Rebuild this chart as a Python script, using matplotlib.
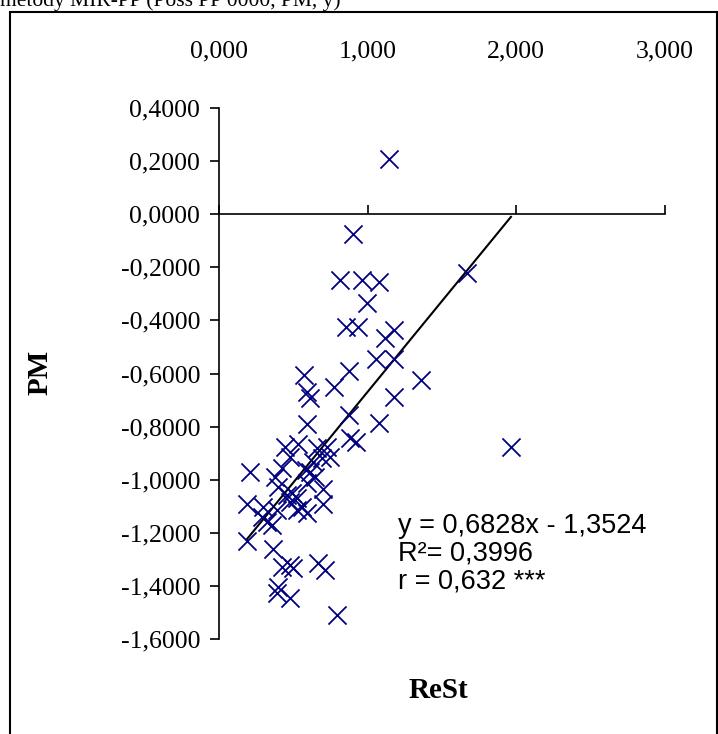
import matplotlib
matplotlib.use("Agg")
import matplotlib.pyplot as plt
from matplotlib.patches import Rectangle
from matplotlib.ticker import FuncFormatter
import numpy as np

# ReSt (x) vs PM (y)
rest = [1.145, 0.902, 0.815, 0.963, 1.077, 0.997, 0.855, 0.936, 1.118, 1.178,
        1.057, 1.178, 0.572, 0.875, 1.360, 0.774, 0.593, 0.613, 1.178, 0.875,
        0.593, 1.077, 1.670, 1.966, 0.209, 0.444, 0.532, 0.478, 0.424, 0.660,
        0.727, 0.747, 0.882, 0.923, 0.633, 0.694, 0.613, 0.646, 0.593, 0.700,
        0.397, 0.492, 0.525, 0.478, 0.559, 0.700, 0.593, 0.391, 0.189, 0.296,
        0.290, 0.323, 0.357, 0.189, 0.364, 0.458, 0.525, 0.424, 0.478, 0.498,
        0.667, 0.714, 0.397, 0.391, 0.478, 0.795, 0.377, 0.586]
pm = [0.207, -0.075, -0.249, -0.249, -0.256, -0.335, -0.426, -0.426, -0.467, -0.437,
      -0.546, -0.546, -0.606, -0.591, -0.625, -0.652, -0.670, -0.693, -0.689, -0.757,
      -0.791, -0.787, -0.222, -0.878, -0.972, -0.878, -0.866, -0.915, -0.957, -0.881,
      -0.878, -0.915, -0.844, -0.859, -0.934, -0.919, -0.972, -0.991, -1.013, -1.036,
      -1.028, -1.051, -1.070, -1.085, -1.104, -1.092, -1.126, -1.115, -1.092, -1.104,
      -1.141, -1.160, -1.171, -1.232, -1.262, -1.058, -1.115, -1.330, -1.322, -1.333,
      -1.315, -1.341, -1.405, -1.427, -1.446, -1.510, -0.991, -0.964]

slope = 0.6828
intercept = -1.3524
eq_lines = ["y = 0,6828x - 1,3524", "R\u00b2= 0,3996", "r = 0,632 ***"]

x_ticks = [0, 1, 2, 3]
y_ticks = [-1.6, -1.4, -1.2, -1.0, -0.8, -0.6, -0.4, -0.2, 0.0, 0.2, 0.4]

W, H = 718, 734
serif = "Liberation Serif"
sans = "Liberation Sans"

fig = plt.figure(figsize=(W / 100, H / 100), dpi=100)
ax = fig.add_axes([219 / W, 1 - 639 / H, 445.5 / W, 531 / H])

ax.scatter(rest, pm, marker="x", s=13 ** 2, color="#000080", linewidths=1.3, zorder=3)

xs = np.array([min(rest), max(rest)])
ax.plot(xs, slope * xs + intercept, color="black", lw=1.5, zorder=2)

ax.set_xlim(0, 3)
ax.set_ylim(-1.6, 0.4)
ax.set_xticks(x_ticks)
ax.set_yticks(y_ticks)

ax.spines["top"].set_visible(False)
ax.spines["right"].set_visible(False)
ax.spines["bottom"].set_position(("data", 0))
ax.spines["bottom"].set_linewidth(1.2)
ax.spines["left"].set_linewidth(1.2)

ax.xaxis.set_major_formatter(FuncFormatter(lambda v, p: f"{v:.3f}".replace(".", ",")))
ax.yaxis.set_major_formatter(FuncFormatter(lambda v, p: f"{v:.4f}".replace(".", ",")))

ax.tick_params(axis="x", direction="in", length=6.5, width=1.2,
               labelbottom=False, labeltop=True, top=False, pad=33)
ax.tick_params(axis="y", direction="out", length=6.5, width=1.2, pad=7)
for lab in ax.get_xticklabels() + ax.get_yticklabels():
    lab.set_fontfamily(serif)
    lab.set_fontsize(18.5)

fig.text(40 / W, 1 - 372 / H, "PM", rotation=90, ha="center", va="center",
         fontfamily=serif, fontweight="bold", fontsize=21)
fig.text(438 / W, 1 - 690 / H, "ReSt", ha="center", va="center",
         fontfamily=serif, fontweight="bold", fontsize=21)

for i, line in enumerate(eq_lines):
    fig.text(398 / W, 1 - (526 + 27.5 * i) / H, line, ha="left", va="center",
             fontfamily=sans, fontsize=19.5)

# title cut off by the top edge, as in the source, and the frame around the chart
fig.text(0, 1 - 6 / H, "metody MIR-PP (Poss PP 0000, PM, y)", ha="left",
         va="baseline", fontfamily=serif, fontsize=15.5)
fig.patches.append(Rectangle((10 / W, -0.05), 707 / W, 1.05 - 12 / H,
                             transform=fig.transFigure, fill=False,
                             edgecolor="black", lw=1.5))

fig.savefig("out.png", dpi=100)
